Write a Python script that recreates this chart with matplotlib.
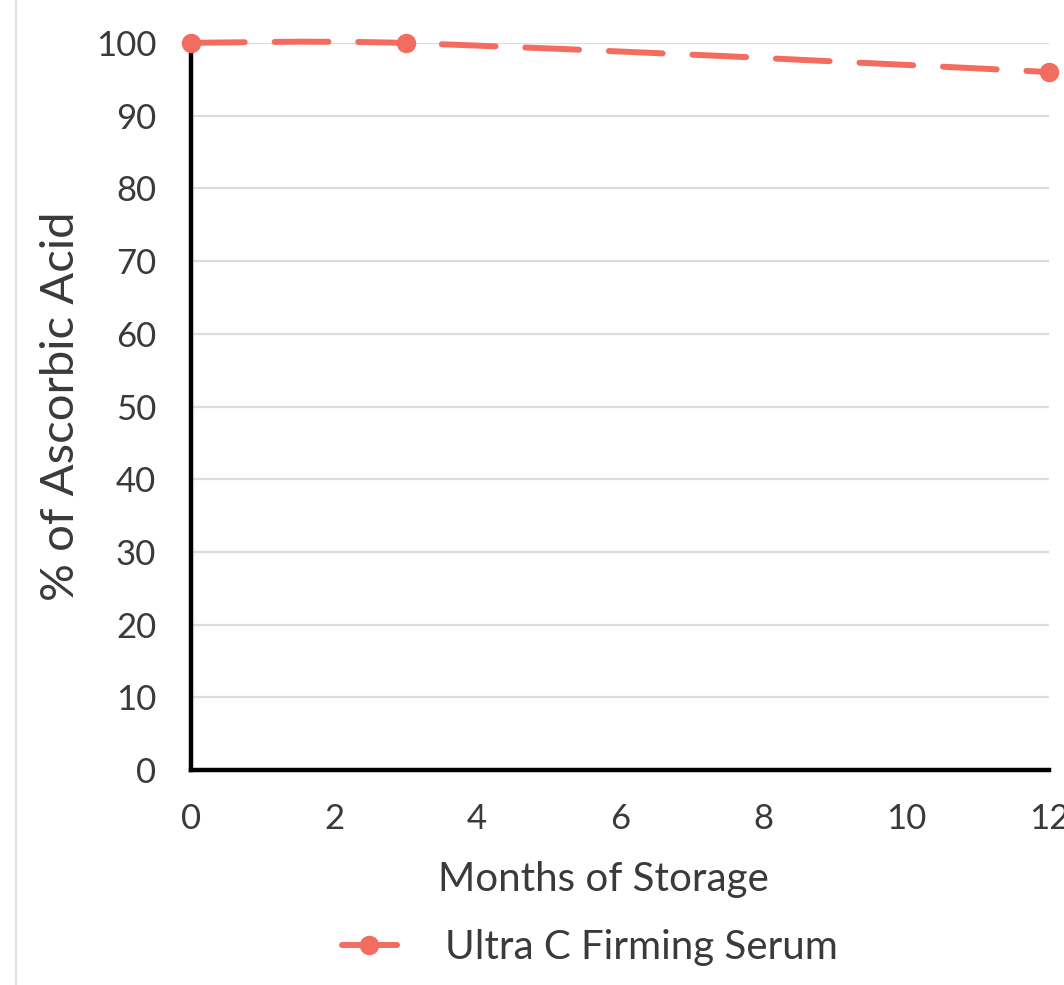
"""Ascorbic acid stability over storage time."""

import matplotlib
matplotlib.use("Agg")
import matplotlib.pyplot as plt
import numpy as np
from matplotlib.legend_handler import HandlerLine2D
from matplotlib.lines import Line2D
from matplotlib.patches import PathPatch
from matplotlib.path import Path

months = [0, 3, 12]
ascorbic_pct = [100, 100, 96]
series_name = "Ultra C Firming Serum"
x_ticks = [0, 2, 4, 6, 8, 10, 12]
y_ticks = [0, 10, 20, 30, 40, 50, 60, 70, 80, 90, 100]

LINE_COLOR = "#f36c60"
TEXT_COLOR = "#3a3a3a"
GRID_COLOR = "#dcdcdc"

plt.rcParams["font.family"] = ["Lato", "DejaVu Sans"]


def spline_path(xs, ys, tension=0.4, sx=71.5, sy=7.27):
    """Smooth bezier through the points (control points weighted in pixel space)."""
    n = len(xs)
    ctrl = []
    for i in range(n):
        if i == 0 or i == n - 1:
            ctrl.append(((xs[i], ys[i]), (xs[i], ys[i])))
            continue
        dxa, dya = (xs[i] - xs[i - 1]) * sx, (ys[i] - ys[i - 1]) * sy
        dxb, dyb = (xs[i + 1] - xs[i]) * sx, (ys[i + 1] - ys[i]) * sy
        da = (dxa ** 2 + dya ** 2) ** 0.5
        db = (dxb ** 2 + dyb ** 2) ** 0.5
        fa, fb = da / (da + db), db / (da + db)
        tx, ty = xs[i + 1] - xs[i - 1], ys[i + 1] - ys[i - 1]
        before = (xs[i] - tension * fa * tx, ys[i] - tension * fa * ty)
        after = (xs[i] + tension * fb * tx, ys[i] + tension * fb * ty)
        ctrl.append((before, after))
    verts = [(xs[0], ys[0])]
    codes = [Path.MOVETO]
    for i in range(1, n):
        verts += [ctrl[i - 1][1], ctrl[i][0], (xs[i], ys[i])]
        codes += [Path.CURVE4] * 3
    return Path(verts, codes)


class OffsetMarkerHandler(HandlerLine2D):
    """Legend line with the marker sitting toward its right end."""

    def get_xdata(self, legend, xdescent, ydescent, width, height, fontsize):
        xdata = np.array([-xdescent, -xdescent + width])
        return xdata, np.array([-xdescent + 0.68 * width])


fig = plt.figure(figsize=(10.64, 9.85), dpi=100)
ax = fig.add_axes([191 / 1064, 215 / 985, 858 / 1064, 727 / 985])

ax.set_xlim(0, 12)
ax.set_ylim(0, 100)
ax.set_xticks(x_ticks)
ax.set_yticks(y_ticks)
ax.tick_params(length=0, labelsize=25, labelcolor=TEXT_COLOR)
ax.tick_params(axis="y", pad=25)
ax.tick_params(axis="x", pad=24)

ax.grid(axis="y", color=GRID_COLOR, linewidth=1.6)
ax.set_axisbelow(True)
for side in ["top", "right"]:
    ax.spines[side].set_visible(False)
for side in ["left", "bottom"]:
    ax.spines[side].set_linewidth(3.2)
    ax.spines[side].set_color("black")
    ax.spines[side].set_zorder(3)

curve = PathPatch(spline_path(months, ascorbic_pct), facecolor="none",
                  edgecolor=LINE_COLOR, linewidth=4.3, capstyle="round",
                  linestyle=(0, (9, 5)), zorder=4, clip_on=False)
ax.add_patch(curve)
ax.plot(months, ascorbic_pct, linestyle="none", marker="o", markersize=13,
        color=LINE_COLOR, zorder=5, clip_on=False)

ax.set_xlabel("Months of Storage", fontsize=29, color=TEXT_COLOR)
ax.xaxis.set_label_coords((603 - 191) / 858, -0.125)
ax.set_ylabel("% of Ascorbic Acid", fontsize=34, color=TEXT_COLOR)
ax.yaxis.set_label_coords(-(191 - 82) / 858, 0.5)

handle = Line2D([], [], color=LINE_COLOR, linewidth=4.3, marker="o",
                markersize=13, solid_capstyle="round")
leg = fig.legend([handle], [series_name], loc="center", bbox_to_anchor=(590 / 1064, 1 - 948 / 985),
                 frameon=False, fontsize=29, handlelength=1.35, handletextpad=1.2,
                 handler_map={Line2D: OffsetMarkerHandler()})
for t in leg.get_texts():
    t.set_color(TEXT_COLOR)

# thin panel border on the left
fig.add_artist(Line2D([15.5 / 1064, 15.5 / 1064], [0, 1], transform=fig.transFigure,
                      color="#e2e2e2", linewidth=1.5))

fig.savefig("out.png", dpi=100)
